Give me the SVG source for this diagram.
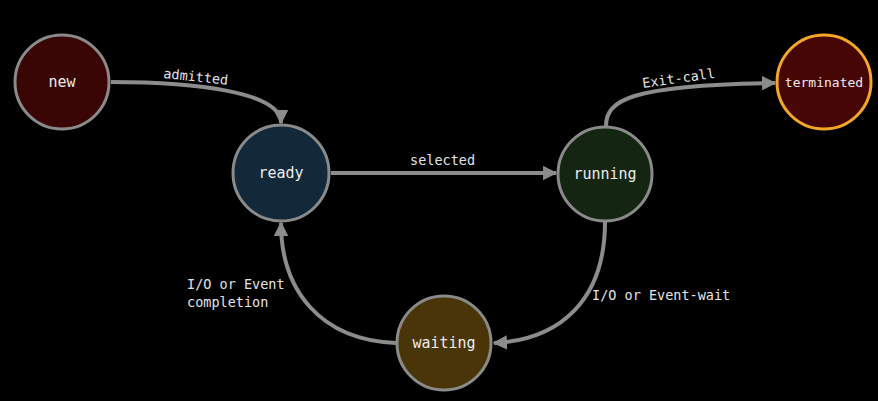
<svg xmlns="http://www.w3.org/2000/svg" width="878" height="401" viewBox="0 0 878 401">
<defs>
<style>
.node circle{stroke:#8a8a8a;stroke-width:3}
.node text{fill:#ececec;font-family:"DejaVu Sans Mono","Liberation Mono",monospace;font-size:15px;text-anchor:middle;dominant-baseline:central}
.edge{fill:none;stroke:#8c8c8c;stroke-width:4;marker-end:url(#arr)}
.lbl{fill:#e4e4e4;font-family:"DejaVu Sans Mono","Liberation Mono",monospace;font-size:13.5px}
</style>
<marker id="arr" viewBox="0 0 10 10" refX="9" refY="5" markerWidth="3.6" markerHeight="3.6" orient="auto" markerUnits="strokeWidth">
<path d="M0,0 L10,5 L0,10 z" fill="#8c8c8c"/>
</marker>
</defs>
<rect width="878" height="401" fill="#000"/>
<g id="connectors">
<path class="edge" d="M111,82 C195,82 281,92 281,123"/>
<path class="edge" d="M331,173 L556,173"/>
<path class="edge" d="M606,126 C606,100 630,85 775,83"/>
<path class="edge" d="M605,222 C605,300 560,340 494,343"/>
<path class="edge" d="M396,343 C320,340 281,290 281,223"/>
<text class="lbl" x="163" y="78" transform="rotate(6 163 78)">admitted</text>
<text class="lbl" x="410" y="165">selected</text>
<text class="lbl" x="643" y="88" transform="rotate(-8 643 88)">Exit-call</text>
<text class="lbl" x="187" y="289">I/O or Event</text>
<text class="lbl" x="187" y="307">completion</text>
<text class="lbl" x="592" y="300">I/O or Event-wait</text>
</g>
<g id="new" class="node"><circle cx="62" cy="82" r="47" fill="#3a0505"/><text x="62" y="82">new</text></g>
<g id="ready" class="node"><circle cx="281" cy="173" r="48" fill="#13293a"/><text x="281" y="173">ready</text></g>
<g id="running" class="node"><circle cx="605" cy="174" r="47" fill="#142612"/><text x="605" y="174">running</text></g>
<g id="terminated" class="node"><circle cx="824" cy="82" r="47" fill="#470606" style="stroke:#f2a727"/><text x="824" y="82" style="font-size:13px">terminated</text></g>
<g id="waiting" class="node"><circle cx="444" cy="343" r="47" fill="#4a3508"/><text x="444" y="343">waiting</text></g>
</svg>
